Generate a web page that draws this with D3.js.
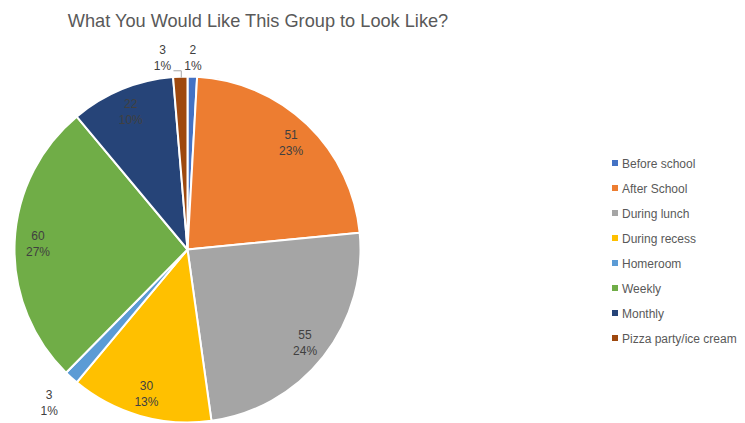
<!DOCTYPE html>
<html>
<head>
<meta charset="utf-8">
<script src="https://cdn.jsdelivr.net/npm/d3@7"></script>
<style>
  html, body { margin: 0; padding: 0; background: #fff; }
  svg { display: block; font-family: "Liberation Sans", Arial, sans-serif; }
</style>
</head>
<body>
<svg id="chart" width="745" height="423"></svg>
<script>
// Chart data
const title = "What You Would Like This Group to Look Like?";
const categories = ["Before school", "After School", "During lunch", "During recess",
                    "Homeroom", "Weekly", "Monthly", "Pizza party/ice cream"];
const values = [2, 51, 55, 30, 3, 60, 22, 3];
const colors = ["#4472C4", "#ED7D31", "#A5A5A5", "#FFC000",
                "#5B9BD5", "#70AD47", "#264478", "#9E480E"];

const svg = d3.select("#chart");
const cx = 187.5, cy = 249.5, r = 173;

// Title
svg.append("text")
  .attr("x", 258).attr("y", 27)
  .attr("text-anchor", "middle")
  .attr("fill", "#595959")
  .style("font-size", "18.2px")
  .text(title);

const data = categories.map((c, i) => ({ name: c, value: values[i], color: colors[i] }));
const total = d3.sum(values);

const pie = d3.pie().value(d => d.value).sort(null);
const arcs = pie(data);
const arc = d3.arc().innerRadius(0).outerRadius(r);
const labelArc = d3.arc().innerRadius(r * 0.865).outerRadius(r * 0.865);
const outerArc = d3.arc().innerRadius(r * 1.115).outerRadius(r * 1.115);
const farArc = d3.arc().innerRadius(r * 1.19).outerRadius(r * 1.19);

const g = svg.append("g").attr("transform", `translate(${cx},${cy})`);

g.selectAll("path.slice")
  .data(arcs)
  .enter().append("path")
  .attr("class", "slice")
  .attr("d", arc)
  .attr("fill", d => d.data.color)
  .attr("stroke", "#fff")
  .attr("stroke-width", 2)
  .attr("stroke-linejoin", "round");

// Data labels: value on the first line, percentage below
const pct = v => Math.round(v / total * 100) + "%";
arcs.forEach(d => {
  const small = d.value / total < 0.02;
  const mid = (d.startAngle + d.endAngle) / 2;
  const lowerLeft = mid > Math.PI && mid < Math.PI * 1.5;
  let [x, y] = small ? (lowerLeft ? farArc.centroid(d) : outerArc.centroid(d))
                     : labelArc.centroid(d);
  let leader = null;
  if (small && mid > Math.PI * 1.5) {
    // crowded near the top: shift left and connect with a leader line
    const ex = r * Math.sin(mid);
    const ey = -r * Math.cos(mid);
    x -= 17;
    leader = [[x + 11, y + 14], [ex + 1, y + 14], [ex + 1, ey + 1]];
  }
  const t = g.append("text")
    .attr("text-anchor", "middle")
    .attr("fill", "#404040")
    .style("font-size", "12px");
  t.append("tspan").attr("x", x).attr("y", y - 3).text(d.value);
  t.append("tspan").attr("x", x).attr("y", y + 13).text(pct(d.value));
  if (leader) {
    g.append("path")
      .attr("d", d3.line()(leader))
      .attr("fill", "none")
      .attr("stroke", "#A6A6A6")
      .attr("stroke-width", 1);
  }
});

// Legend
const lg = svg.append("g").attr("transform", "translate(612,163)");
const rows = lg.selectAll("g.row").data(data).enter().append("g")
  .attr("class", "row")
  .attr("transform", (d, i) => `translate(0,${i * 25})`);
rows.append("rect")
  .attr("x", 0).attr("y", -3).attr("width", 6).attr("height", 6)
  .attr("fill", d => d.color);
rows.append("text")
  .attr("x", 10).attr("y", 4.5)
  .attr("fill", "#595959")
  .style("font-size", "12px")
  .text(d => d.name);
</script>
</body>
</html>
